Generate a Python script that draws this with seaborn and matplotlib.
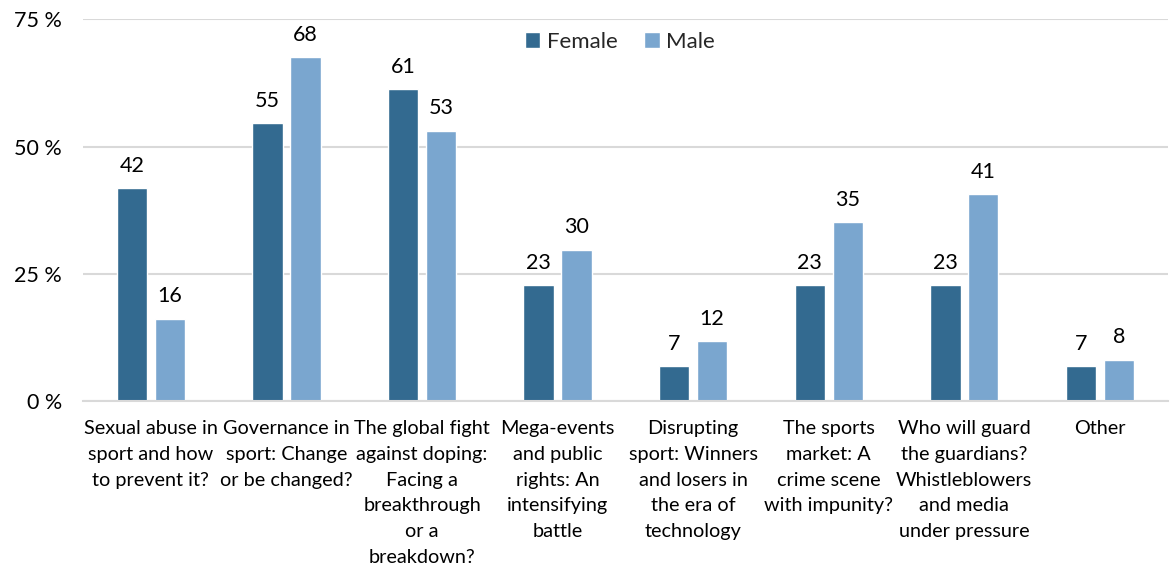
import matplotlib
matplotlib.use("Agg")
import matplotlib.pyplot as plt
import seaborn as sns
import pandas as pd
from matplotlib.patches import Patch

topics = [
    "Sexual abuse in\nsport and how\nto prevent it?",
    "Governance in\nsport: Change\nor be changed?",
    "The global fight\nagainst doping:\nFacing a\nbreakthrough\nor a\nbreakdown?",
    "Mega-events\nand public\nrights: An\nintensifying\nbattle",
    "Disrupting\nsport: Winners\nand losers in\nthe era of\ntechnology",
    "The sports\nmarket: A\ncrime scene\nwith impunity?",
    "Who will guard\nthe guardians?\nWhistleblowers\nand media\nunder pressure",
    "Other",
]
female = [41.8, 54.6, 61.3, 22.7, 6.8, 22.7, 22.7, 6.8]
male = [16.2, 67.5, 53.1, 29.7, 11.7, 35.1, 40.6, 8.1]
groups = ["Female", "Male"]
colors = ["#336a90", "#7aa6cf"]

df = pd.DataFrame({
    "topic": topics * 2,
    "share": female + male,
    "gender": ["Female"] * len(topics) + ["Male"] * len(topics),
})

sns.set_style("white")
plt.rcParams["font.family"] = ["Lato", "DejaVu Sans"]

fig = plt.figure(figsize=(11.7, 5.68), dpi=100)
ax = fig.add_axes([0.071, 0.294, 0.927, 0.672])

sns.barplot(data=df, x="topic", y="share", hue="gender", hue_order=groups,
            palette=colors, width=0.56, gap=0.2, saturation=1,
            legend=False, ax=ax)

for cont in ax.containers:
    ax.bar_label(cont, labels=[f"{v:.0f}" for v in cont.datavalues],
                 padding=9, fontsize=15.5, color="black")

ax.set_ylim(0, 75)
ax.set_xlim(-0.5, len(topics) - 0.5)
ax.set_yticks([0, 25, 50, 75])
ax.set_yticklabels(["0 %", "25 %", "50 %", "75 %"])
ax.yaxis.grid(True, color="#d9d9d9", linewidth=1.5)
ax.set_axisbelow(True)
ax.set_xlabel("")
ax.set_ylabel("")
for s in ["top", "right", "left"]:
    ax.spines[s].set_visible(False)
ax.spines["bottom"].set_color("#d9d9d9")
ax.spines["bottom"].set_linewidth(1.5)
ax.tick_params(axis="y", length=0, pad=15, labelsize=15.5, labelcolor="black")
ax.tick_params(axis="x", length=0, pad=14, labelsize=14.3, labelcolor="black")
for t in ax.get_xticklabels():
    t.set_linespacing(1.62)
    t.set_verticalalignment("top")

handles = [Patch(facecolor=c, label=g) for c, g in zip(colors, groups)]
ax.legend(handles=handles, loc="upper center", bbox_to_anchor=(0.495, 1.02),
          ncol=2, frameon=False, fontsize=16, handlelength=0.7,
          handleheight=0.7, handletextpad=0.3, columnspacing=1.2)

fig.savefig("out.png", dpi=100)
